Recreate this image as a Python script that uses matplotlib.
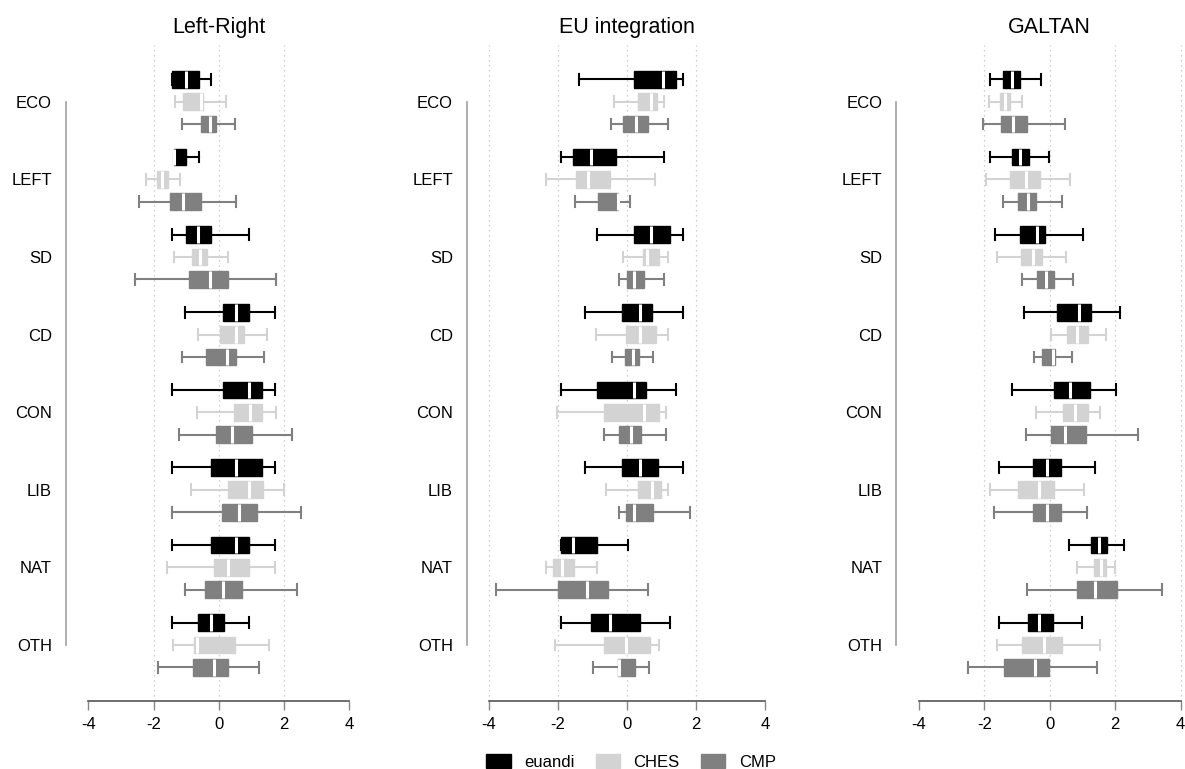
import matplotlib
matplotlib.use('Agg')
import matplotlib.pyplot as plt
from matplotlib.patches import Patch
from matplotlib.transforms import blended_transform_factory

plt.rcParams['font.family'] = ['Liberation Sans', 'DejaVu Sans']

families = ['ECO', 'LEFT', 'SD', 'CD', 'CON', 'LIB', 'NAT', 'OTH']
sources = ['euandi', 'CHES', 'CMP']
titles = ['Left-Right', 'EU integration', 'GALTAN']
ticks = [-4, -2, 0, 2, 4]

# (whisker low, q1, median, q3, whisker high) per family
lr_euandi = [(-1.42, -1.42, -1.01, -0.62, -0.23), (-1.37, -1.37, -1.37, -1.02, -0.62),
             (-1.42, -1.02, -0.63, -0.24, 0.93), (-1.03, 0.14, 0.54, 0.92, 1.71),
             (-1.42, 0.14, 0.94, 1.32, 1.71), (-1.42, -0.23, 0.54, 1.32, 1.71),
             (-1.42, -0.23, 0.54, 0.92, 1.71), (-1.42, -0.63, -0.24, 0.15, 0.93)]
lr_ches = [(-1.35, -1.10, -0.55, -0.48, 0.21), (-2.23, -1.90, -1.73, -1.55, -1.18),
           (-1.37, -0.82, -0.58, -0.37, 0.27), (-0.65, 0.05, 0.52, 0.78, 1.48),
           (-0.67, 0.47, 0.95, 1.32, 1.74), (-0.84, 0.29, 0.92, 1.35, 1.99),
           (-1.60, -0.15, 0.29, 0.92, 1.71), (-1.40, -0.76, -0.66, 0.51, 1.53)]
lr_cmp = [(-1.13, -0.54, -0.28, -0.09, 0.50), (-2.44, -1.49, -1.10, -0.55, 0.54),
          (-2.58, -0.90, -0.28, 0.27, 1.76), (-1.13, -0.38, 0.26, 0.54, 1.38),
          (-1.22, -0.10, 0.41, 1.02, 2.24), (-1.42, 0.11, 0.61, 1.16, 2.53),
          (-1.05, -0.43, 0.14, 0.71, 2.41), (-1.87, -0.79, -0.15, 0.27, 1.22)]

eu_euandi = [(-1.39, 0.20, 1.05, 1.43, 1.61), (-1.91, -1.57, -1.04, -0.33, 1.07),
             (-0.86, 0.20, 0.71, 1.25, 1.61), (-1.22, -0.15, 0.38, 0.72, 1.61),
             (-1.91, -0.86, 0.20, 0.55, 1.43), (-1.22, -0.15, 0.38, 0.90, 1.61),
             (-1.91, -1.91, -1.56, -0.86, 0.03), (-1.91, -1.03, -0.50, 0.37, 1.26)]
eu_ches = [(-0.37, 0.31, 0.71, 0.87, 1.06), (-2.35, -1.49, -1.12, -0.50, 0.80),
           (-0.11, 0.47, 0.57, 0.92, 1.19), (-0.90, -0.04, 0.38, 0.83, 1.19),
           (-2.03, -0.68, 0.49, 0.93, 1.13), (-0.61, 0.33, 0.72, 0.99, 1.20),
           (-2.35, -2.15, -1.87, -1.54, -0.86), (-2.09, -0.66, -0.02, 0.68, 0.94)]
eu_cmp = [(-0.45, -0.12, 0.26, 0.61, 1.20), (-1.52, -0.85, -0.27, -0.27, 0.09),
          (-0.23, -0.01, 0.21, 0.50, 1.07), (-0.44, -0.06, 0.18, 0.34, 0.75),
          (-0.68, -0.23, 0.12, 0.41, 1.12), (-0.23, -0.04, 0.20, 0.76, 1.82),
          (-3.81, -1.99, -1.17, -0.54, 0.61), (-1.00, -0.25, -0.23, 0.24, 0.63)]

gal_euandi = [(-1.82, -1.42, -1.16, -0.91, -0.27), (-1.82, -1.16, -0.92, -0.64, -0.02),
              (-1.68, -0.91, -0.38, -0.14, 1.02), (-0.80, 0.23, 0.89, 1.26, 2.15),
              (-1.16, 0.12, 0.61, 1.24, 2.02), (-1.54, -0.52, -0.08, 0.36, 1.38),
              (0.60, 1.26, 1.50, 1.76, 2.27), (-1.55, -0.65, -0.34, 0.11, 1.00)]
gal_ches = [(-1.84, -1.53, -1.36, -1.20, -0.84), (-1.96, -1.22, -0.72, -0.30, 0.62),
            (-1.62, -0.89, -0.52, -0.22, 0.51), (0.04, 0.54, 0.82, 1.16, 1.72),
            (-0.41, 0.40, 0.76, 1.18, 1.55), (-1.81, -0.98, -0.33, 0.13, 1.05),
            (0.84, 1.35, 1.58, 1.72, 2.00), (-1.61, -0.85, -0.18, 0.39, 1.55)]
gal_cmp = [(-2.04, -1.50, -1.13, -0.70, 0.47), (-1.44, -0.98, -0.67, -0.41, 0.38),
           (-0.86, -0.39, -0.11, 0.12, 0.71), (-0.49, -0.24, 0.10, 0.17, 0.68),
           (-0.72, 0.03, 0.46, 1.12, 2.71), (-1.69, -0.52, -0.08, 0.36, 1.14),
           (-0.68, 0.83, 1.37, 2.05, 3.44), (-2.49, -1.41, -0.45, -0.02, 1.43)]

panels = [[lr_euandi, lr_ches, lr_cmp],
          [eu_euandi, eu_ches, eu_cmp],
          [gal_euandi, gal_ches, gal_cmp]]
grids = [[-2, 0, 2], [-4, -2, 0, 2], [-2, 0, 2, 4]]
colors = ['#000000', '#d3d3d3', '#808080']

W, H = 1185, 769
fig = plt.figure(figsize=(W / 100, H / 100), dpi=100)

# pixel layout: y-spine x, x of -4, x of 4, right edge
layout = [(65.7, 88.3, 349.3, 355), (466.7, 489, 765, 772), (896.3, 918.7, 1180.7, 1184)]
top_px, bot_px = 45, 701
offset = 0.288

for p, (data, (xs, xm4, xp4, xr)) in enumerate(zip(panels, layout)):
    unit = (xp4 - xm4) / 8
    ax = fig.add_axes([xs / W, 1 - bot_px / H, (xr - xs) / W, (bot_px - top_px) / H])
    ax.set_xlim(-4 - (xm4 - xs) / unit, 4 + (xr - xp4) / unit)
    ax.set_ylim(7.72, -0.73)

    for s, (series, col) in enumerate(zip(data, colors)):
        stats = [dict(whislo=v[0], q1=v[1], med=v[2], q3=v[3], whishi=v[4], fliers=[])
                 for v in series]
        pos = [i + (s - 1) * offset for i in range(len(families))]
        ax.bxp(stats, positions=pos, widths=0.215, capwidths=0.138,
               orientation='horizontal', patch_artist=True, showfliers=False,
               boxprops=dict(facecolor=col, edgecolor=col, linewidth=1),
               medianprops=dict(color='white', linewidth=2.2),
               whiskerprops=dict(color=col, linewidth=1.5),
               capprops=dict(color=col, linewidth=1.5))

    for g in grids[p]:
        ax.axvline(g, color='#c0c0c0', linestyle=(0, (1, 3)), linewidth=0.9, zorder=0)

    ax.set_yticks(range(len(families)))
    ax.set_yticklabels(families, fontsize=12)
    ax.set_xticks(ticks)
    ax.set_xticklabels([str(t) for t in ticks], fontsize=12)
    ax.tick_params(axis='y', length=0, pad=10)
    ax.tick_params(axis='x', length=6.5, width=1, color='#888888', pad=5)
    for sp in ['top', 'right']:
        ax.spines[sp].set_visible(False)
    ax.spines['left'].set_bounds(0, 7)
    ax.spines['left'].set_color('#a0a0a0')
    ax.spines['left'].set_linewidth(1.2)
    ax.spines['bottom'].set_bounds(-4, 4)
    ax.spines['bottom'].set_color('#555555')
    ax.spines['bottom'].set_linewidth(1.2)

    trans = blended_transform_factory(ax.transData, ax.transAxes)
    ax.text(0, 1 + (top_px - 28) / (bot_px - top_px), titles[p], transform=trans,
            ha='center', va='center', fontsize=15.5)

handles = [Patch(facecolor=c, edgecolor=c) for c in colors]
fig.legend(handles, sources, loc='center', bbox_to_anchor=(631 / W, 1 - 762 / H),
           ncol=3, frameon=False, fontsize=12, handlelength=1.45, handleheight=0.85,
           columnspacing=1.3, handletextpad=0.8)

fig.savefig('out.png', dpi=100)
